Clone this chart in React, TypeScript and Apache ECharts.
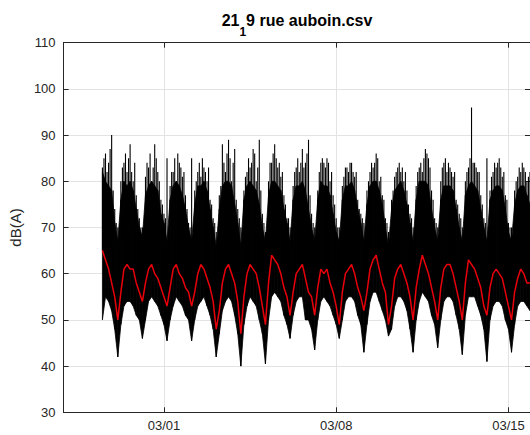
import React, { useEffect, useRef } from 'react';
import * as echarts from 'echarts';

const TITLE_MAIN = '21';
const TITLE_SUB = '1';
const TITLE_REST = '9 rue auboin.csv';
const Y_NAME = 'dB(A)';

// x is measured in days since 03/01 00:00
const X_TICK_VALUES = [0, 7, 14];
const X_TICK_LABELS = ['03/01', '03/08', '03/15'];
const X_MIN = -4.078;
const X_MAX = 14.876;
const Y_MIN = 30;
const Y_MAX = 110;
const Y_STEP = 10;

// samples every 3 hours, starting 02/26 12:00
const START_DAY = -2.5;
const STEP_DAY = 0.125;

// highest peak of the raw signal in each 3-hour sample (dB(A))
const hiLevel = [
  83, 86, 84, 90,
  74, 70, 80, 84, 82, 88, 80, 77,
  72, 70, 81, 83, 80, 88, 82, 76,
  73, 85, 79, 82, 80, 84, 81, 77,
  71, 85, 78, 82, 81, 83, 80, 76,
  72, 69, 77, 88, 82, 89, 80, 87,
  74, 70, 78, 82, 83, 87, 80, 89,
  73, 69, 80, 84, 88, 83, 81, 77,
  72, 70, 79, 83, 82, 87, 84, 89,
  73, 70, 78, 84, 84, 85, 80, 77,
  72, 70, 79, 83, 82, 84, 81, 76,
  73, 71, 78, 82, 83, 86, 80, 77,
  72, 69, 76, 81, 83, 82, 80, 78,
  73, 70, 79, 83, 82, 87, 85, 78,
  72, 70, 80, 84, 82, 83, 81, 76,
  73, 70, 80, 83, 96, 84, 82, 77,
  72, 85, 78, 82, 83, 85, 81, 77,
  71, 70, 78, 81, 82, 83, 80, 82,
];

// top of the dense (solid black) part of the signal (dB(A))
const denseTop = [
  82, 80, 79, 78,
  71, 67, 76, 80, 79, 80, 78, 74,
  70, 68, 77, 79, 80, 79, 78, 73,
  71, 67, 76, 79, 80, 79, 77, 74,
  70, 67, 75, 79, 79, 80, 78, 74,
  70, 66, 74, 79, 80, 80, 79, 75,
  71, 66, 76, 79, 80, 79, 78, 75,
  70, 67, 77, 80, 80, 79, 78, 74,
  71, 67, 76, 79, 79, 80, 78, 74,
  70, 67, 76, 80, 79, 79, 77, 73,
  69, 67, 76, 79, 79, 80, 78, 74,
  71, 67, 75, 79, 80, 80, 78, 75,
  70, 66, 74, 78, 79, 80, 78, 75,
  71, 67, 76, 80, 80, 80, 79, 74,
  70, 67, 76, 79, 79, 79, 78, 74,
  70, 67, 77, 79, 80, 79, 78, 74,
  70, 67, 76, 78, 79, 79, 78, 74,
  69, 67, 75, 78, 79, 79, 77, 75,
];

// lower envelope of the raw signal (dB(A))
const loLevel = [
  50, 55, 54, 52,
  48, 42, 49, 53, 54, 54, 53, 51,
  50, 46, 50, 54, 55, 54, 53, 51,
  49, 45.5, 50, 53, 55, 54, 53, 51,
  50, 45.5, 50, 53, 54, 55, 53, 51,
  48, 42, 47, 52, 54, 55, 54, 51,
  47, 40, 49, 53, 55, 54, 53, 50,
  47, 40.5, 50, 55, 56, 55, 54, 51,
  49, 46, 51, 54, 55, 55, 50, 50,
  48, 43.5, 50, 54, 55, 54, 53, 51,
  49, 46, 50, 54, 55, 55, 54, 51,
  49, 43, 49, 54, 56, 56, 54, 52,
  50, 46.5, 48, 53, 55, 55, 54, 52,
  48, 43, 50, 54, 56, 55, 54, 51,
  49, 44, 50, 54, 55, 55, 54, 51,
  48, 42.5, 51, 55, 55, 55, 53, 51,
  48, 41, 50, 53, 54, 54, 53, 50,
  48, 43, 49, 53, 54, 54, 53, 52,
];

// isolated peaks between the 3-hour samples (at +1.5 h)
const peakLevel = [
  85, 82, 87, 78,
  71, 67, 83, 86, 85, 82, 84, 74,
  70, 69, 84, 86, 83, 85, 80, 75,
  72, 68, 82, 85, 86, 83, 82, 74,
  70, 67, 80, 84, 85, 82, 83, 75,
  71, 68, 79, 84, 86, 85, 84, 76,
  72, 69, 81, 85, 84, 86, 83, 78,
  71, 68, 84, 86, 85, 84, 82, 75,
  72, 69, 82, 85, 84, 83, 86, 77,
  71, 68, 82, 85, 83, 84, 82, 75,
  70, 68, 81, 83, 84, 82, 82, 74,
  72, 69, 80, 84, 84, 85, 81, 76,
  71, 67, 78, 82, 84, 83, 82, 75,
  72, 69, 82, 84, 85, 86, 83, 76,
  71, 68, 83, 85, 84, 82, 82, 75,
  72, 69, 82, 85, 84, 83, 82, 75,
  71, 70, 81, 84, 84, 83, 82, 76,
  70, 68, 80, 83, 84, 82, 81,
];

// smoothed level (red)
const meanLevel = [
  65, 63, 61, 58,
  55, 50, 56, 61, 62, 61, 61, 58,
  56, 54, 58, 61, 62, 60, 59, 57,
  55, 53, 57, 61, 62, 60, 59, 57,
  56, 53, 56, 60, 62, 61, 59, 57,
  54, 48, 52, 58, 61, 62, 60, 58,
  54, 47, 55, 60, 62, 61, 60, 57,
  53, 49, 58, 64, 63, 62, 60, 57,
  55, 51, 56, 60, 61, 62, 59, 56,
  55, 51, 57, 61, 60, 61, 58, 56,
  53, 49, 56, 60, 61, 62, 60, 57,
  55, 52, 56, 61, 63, 64, 61, 58,
  56, 49, 53, 59, 61, 62, 60, 58,
  55, 50, 57, 61, 64, 62, 60, 57,
  54, 50, 57, 61, 62, 62, 60, 57,
  54, 50, 58, 63, 62, 61, 59, 57,
  53, 51, 57, 60, 61, 60, 59, 56,
  53, 50, 56, 59, 61, 60, 58, 58,
];

const FONT = '"Liberation Sans", Arial, Helvetica, sans-serif';
const AXIS_COLOR = '#262626';
const GRID_COLOR = '#e3e3e3';

export default function App() {
  const ref = useRef<HTMLDivElement>(null);

  useEffect(() => {
    if (!ref.current) return;
    const chart = echarts.init(ref.current, null, { renderer: 'svg' });

    const xs = hiLevel.map((_, i) => START_DAY + i * STEP_DAY);
    // one quad per pair of consecutive samples: [x0, lo0, top0, x1, lo1, top1]
    const bandData: number[][] = [];
    for (let i = 0; i < xs.length - 1; i++) {
      bandData.push([xs[i], loLevel[i], denseTop[i], xs[i + 1], loLevel[i + 1], denseTop[i + 1]]);
    }
    // needles: [x, base, top]
    const needleData: number[][] = [];
    xs.forEach((x, i) => needleData.push([x, meanLevel[i], hiLevel[i]]));
    peakLevel.forEach((p, i) => needleData.push([xs[i] + STEP_DAY / 2, meanLevel[i], p]));
    const meanData = xs.map((x, i) => [x, meanLevel[i]]);

    const labelFmt = (v: number) => {
      const idx = X_TICK_VALUES.findIndex((t) => Math.abs(t - v) < 1e-6);
      return idx >= 0 ? X_TICK_LABELS[idx] : '';
    };

    const renderBand = (params: any, api: any) => {
      const a = api.coord([api.value(0), api.value(1)]);
      const b = api.coord([api.value(0), api.value(2)]);
      const c = api.coord([api.value(3), api.value(5)]);
      const d = api.coord([api.value(3), api.value(4)]);
      return {
        type: 'polygon',
        shape: { points: [a, b, c, d] },
        style: { fill: '#000', stroke: '#000', lineWidth: 0.8 },
      };
    };

    const renderNeedle = (params: any, api: any) => {
      const a = api.coord([api.value(0), api.value(1)]);
      const b = api.coord([api.value(0), api.value(2)]);
      return {
        type: 'line',
        shape: { x1: a[0], y1: a[1], x2: b[0], y2: b[1] },
        style: { stroke: '#000', lineWidth: 1.1 },
      };
    };

    const option: any = {
      animation: false,
      backgroundColor: '#ffffff',
      textStyle: { fontFamily: FONT },
      grid: { left: 63, right: -1, top: 42.7, bottom: 22.7, containLabel: false },
      graphic: [
        {
          type: 'text',
          x: 297,
          y: 12,
          style: {
            text: `{a|${TITLE_MAIN}}{b|${TITLE_SUB}}{a|${TITLE_REST}}`,
            align: 'center',
            verticalAlign: 'top',
            fill: '#000',
            rich: {
              a: { fontSize: 16, fontWeight: 'bold', fontFamily: FONT, lineHeight: 20, verticalAlign: 'top', fill: '#000' },
              b: { fontSize: 12, fontWeight: 'bold', fontFamily: FONT, lineHeight: 14, padding: [14, 0, 0, 0], verticalAlign: 'top', fill: '#000' },
            },
          },
        },
      ],
      xAxis: [
        {
          type: 'value',
          position: 'bottom',
          min: X_MIN,
          max: X_MAX,
          axisLine: { show: true, onZero: false, lineStyle: { color: AXIS_COLOR, width: 1 } },
          axisTick: { show: true, inside: true, length: 5, customValues: X_TICK_VALUES, lineStyle: { color: AXIS_COLOR } },
          axisLabel: {
            show: true,
            customValues: X_TICK_VALUES,
            formatter: labelFmt,
            color: AXIS_COLOR,
            fontSize: 13,
            fontFamily: FONT,
            margin: 7,
          },
          splitLine: { show: true, lineStyle: { color: GRID_COLOR, width: 1 } },
        },
        {
          type: 'value',
          position: 'top',
          min: X_MIN,
          max: X_MAX,
          axisLine: { show: true, onZero: false, lineStyle: { color: AXIS_COLOR, width: 1 } },
          axisTick: { show: true, inside: true, length: 5, customValues: X_TICK_VALUES, lineStyle: { color: AXIS_COLOR } },
          axisLabel: { show: false },
          splitLine: { show: false },
        },
      ],
      yAxis: [
        {
          type: 'value',
          position: 'left',
          min: Y_MIN,
          max: Y_MAX,
          interval: Y_STEP,
          name: Y_NAME,
          nameLocation: 'middle',
          nameGap: 34,
          nameTextStyle: { color: AXIS_COLOR, fontSize: 15, fontFamily: FONT },
          axisLine: { show: true, onZero: false, lineStyle: { color: AXIS_COLOR, width: 1 } },
          axisTick: { show: true, inside: true, length: 5, lineStyle: { color: AXIS_COLOR } },
          axisLabel: { color: AXIS_COLOR, fontSize: 13, fontFamily: FONT, margin: 8 },
          splitLine: { show: true, lineStyle: { color: GRID_COLOR, width: 1 } },
        },
        {
          type: 'value',
          position: 'right',
          min: Y_MIN,
          max: Y_MAX,
          interval: Y_STEP,
          axisLine: { show: true, onZero: false, lineStyle: { color: AXIS_COLOR, width: 1 } },
          axisTick: { show: true, inside: true, length: 5, lineStyle: { color: AXIS_COLOR } },
          axisLabel: { show: false },
          splitLine: { show: false },
        },
      ],
      series: [
        {
          name: 'raw',
          type: 'custom',
          renderItem: renderBand,
          data: bandData,
          encode: { x: [0, 3], y: [1, 2, 4, 5] },
          clip: true,
          silent: true,
          z: 2,
        },
        {
          name: 'peaks',
          type: 'custom',
          renderItem: renderNeedle,
          data: needleData,
          encode: { x: 0, y: [1, 2] },
          clip: true,
          silent: true,
          z: 2,
        },
        {
          name: 'mean',
          type: 'line',
          data: meanData,
          symbol: 'none',
          silent: true,
          lineStyle: { color: '#e8000b', width: 1.5 },
          z: 3,
        },
      ],
    };

    chart.setOption(option);
    return () => chart.dispose();
  }, []);

  return (
    <div
      ref={ref}
      style={{ position: 'fixed', left: 0, top: 0, width: 530, height: 435, background: '#fff' }}
    />
  );
}
